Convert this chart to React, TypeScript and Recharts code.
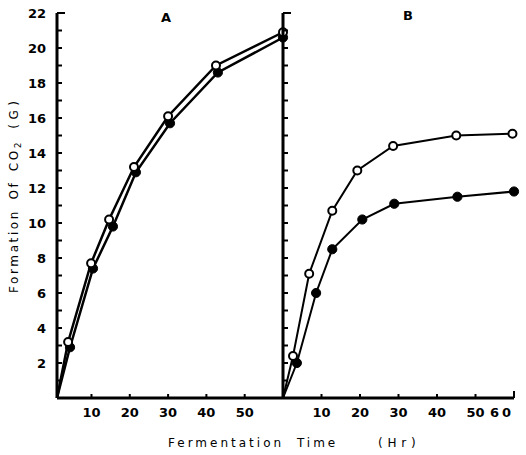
import React from 'react';
import { LineChart, Line, XAxis, YAxis } from 'recharts';

const yTicks = [0, 1, 2, 3, 4, 5, 6, 7, 8, 9, 10, 11, 12, 13, 14, 15, 16, 17, 18, 19, 20, 21, 22];
const aTicksX = [10, 20, 30, 40, 50];
const bTicksX = [10, 20, 30, 40, 50, 60];

const aOpenX = [1, 3.9, 9.9, 14.6, 21.1, 30, 42.5, 60];
const aOpenY = [0, 3.2, 7.7, 10.2, 13.2, 16.1, 19.0, 20.9];
const aFilledX = [1, 4.4, 10.4, 15.6, 21.6, 30.5, 43, 60];
const aFilledY = [0, 2.9, 7.4, 9.8, 12.9, 15.7, 18.6, 20.6];
const bOpenX = [0, 2.6, 6.8, 12.8, 19.3, 28.6, 45, 59.6];
const bOpenY = [0, 2.4, 7.1, 10.7, 13.0, 14.4, 15.0, 15.1];
const bFilledX = [0, 3.6, 8.6, 12.8, 20.6, 28.9, 45.3, 60];
const bFilledY = [0, 2.0, 6.0, 8.5, 10.2, 11.1, 11.5, 11.8];

const zip = (xs: number[], ys: number[]) => xs.map((x, i) => ({ x, y: ys[i] }));
const aOpen = zip(aOpenX, aOpenY);
const aFilled = zip(aFilledX, aFilledY);
const bOpen = zip(bOpenX, bOpenY);
const bFilled = zip(bFilledX, bFilledY);

const tickFont = { fontFamily: 'DejaVu Sans', fontWeight: 'bold' as const, fontSize: 13, fill: '#000' };

const YTick = (props: any) => {
  const { x, y, payload, labels } = props;
  const v = payload.value;
  const len = v === 22 ? 8 : 5;
  return (
    <g>
      <line x1={x} x2={x + len} y1={y} y2={y} stroke="#000" strokeWidth={2} />
      {labels && v > 0 && v % 2 === 0 && (
        <text x={x - 11} y={y + 5} textAnchor="end" {...tickFont}>
          {v}
        </text>
      )}
    </g>
  );
};

const XTick = (props: any) => {
  const { x, y, payload } = props;
  const v = payload.value;
  const len = v === 60 ? 7 : 4;
  const tx = v === 60 ? x - 12 : x;
  return (
    <g>
      <line x1={x} x2={x} y1={y} y2={y - len} stroke="#000" strokeWidth={2} />
      <text x={tx} y={y + 19} textAnchor="middle" letterSpacing={v === 60 ? 3 : 0} {...tickFont}>
        {v}
      </text>
    </g>
  );
};

const OpenDot = (props: any) => {
  const { cx, cy, index } = props;
  if (index === 0) return <g key={`o${index}`} />;
  return <circle key={`o${index}`} cx={cx} cy={cy} r={4} fill="#fff" stroke="#000" strokeWidth={2} />;
};

const FilledDot = (props: any) => {
  const { cx, cy, index } = props;
  if (index === 0) return <g key={`f${index}`} />;
  return <circle key={`f${index}`} cx={cx} cy={cy} r={4.6} fill="#000" stroke="#000" strokeWidth={1} />;
};

const axisLine = { stroke: '#000', strokeWidth: 3 };

export default function App() {
  return (
    <div style={{ position: 'absolute', left: 0, top: 0, width: 526, height: 455, background: '#fff' }}>
      <div style={{ position: 'absolute', left: 0, top: 0 }}>
        <LineChart width={290} height={455} margin={{ top: 13, right: 7, left: 0, bottom: 0 }}>
          <XAxis
            type="number"
            dataKey="x"
            domain={[1, 60]}
            ticks={aTicksX}
            interval={0}
            tickSize={0}
            tickMargin={0}
            tickLine={false}
            axisLine={axisLine}
            height={57}
            tick={(p: any) => <XTick {...p} />}
          />
          <YAxis
            type="number"
            domain={[0, 22]}
            ticks={yTicks}
            interval={0}
            tickSize={0}
            tickMargin={0}
            tickLine={false}
            axisLine={axisLine}
            width={57}
            tick={(p: any) => <YTick {...p} labels />}
          />
          <Line data={aFilled} dataKey="y" stroke="#000" strokeWidth={2.5} dot={FilledDot} isAnimationActive={false} />
          <Line data={aOpen} dataKey="y" stroke="#000" strokeWidth={2.5} dot={OpenDot} isAnimationActive={false} />
        </LineChart>
      </div>
      <div style={{ position: 'absolute', left: 226, top: 0 }}>
        <LineChart width={300} height={455} margin={{ top: 13, right: 12, left: 0, bottom: 0 }}>
          <XAxis
            type="number"
            dataKey="x"
            domain={[0, 60]}
            ticks={bTicksX}
            interval={0}
            tickSize={0}
            tickMargin={0}
            tickLine={false}
            axisLine={axisLine}
            height={57}
            tick={(p: any) => <XTick {...p} />}
          />
          <YAxis
            type="number"
            domain={[0, 22]}
            ticks={yTicks}
            interval={0}
            tickSize={0}
            tickMargin={0}
            tickLine={false}
            axisLine={axisLine}
            width={57}
            tick={(p: any) => <YTick {...p} labels={false} />}
          />
          <Line data={bFilled} dataKey="y" stroke="#000" strokeWidth={2} dot={FilledDot} isAnimationActive={false} />
          <Line data={bOpen} dataKey="y" stroke="#000" strokeWidth={2} dot={OpenDot} isAnimationActive={false} />
        </LineChart>
      </div>
      <svg width={526} height={455} style={{ position: 'absolute', left: 0, top: 0, pointerEvents: 'none' }}>
        <text x={166} y={22} textAnchor="middle" {...tickFont}>A</text>
        <text x={408} y={20} textAnchor="middle" {...tickFont}>B</text>
        <text
          x={168}
          y={447}
          textAnchor="start"
          fontFamily="DejaVu Sans"
          fontSize={12}
          letterSpacing={3}
          wordSpacing={6}
          fill="#000"
        >
          Fermentation Time
          <tspan x={378} letterSpacing={4.8}>(Hr)</tspan>
        </text>
        <text
          x={17.5}
          y={293}
          transform="rotate(-90 17.5 293)"
          textAnchor="start"
          fontFamily="DejaVu Sans"
          fontSize={12}
          letterSpacing={2.6}
          wordSpacing={3}
          fill="#000"
        >
          Formation Of CO
          <tspan fontSize={9} dy={3}>2</tspan>
          <tspan dy={-3} letterSpacing={4.5}> (G)</tspan>
        </text>
      </svg>
    </div>
  );
}
